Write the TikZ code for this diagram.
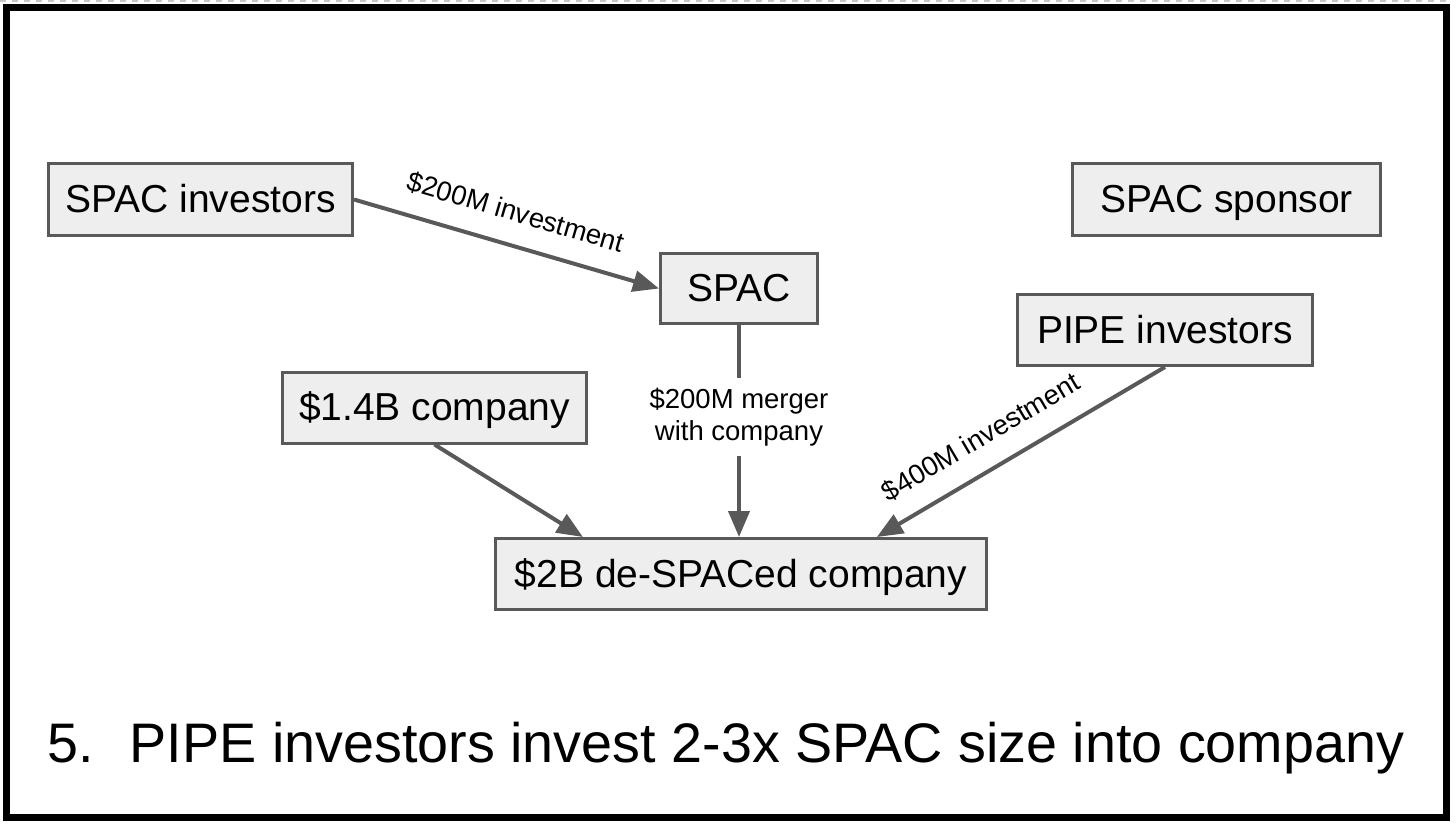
\documentclass[tikz,border=0pt]{standalone}
\usepackage{fontspec}
\setmainfont{Liberation Sans}
\usetikzlibrary{arrows.meta,calc}

\definecolor{boxgray}{HTML}{EEEEEE}
\definecolor{linegray}{HTML}{595959}

\tikzset{
  box/.style={draw=linegray, fill=boxgray, line width=1.5pt, inner sep=0pt,
    text height=14.2pt, text depth=1.2pt, font=\fontsize{19.5}{23}\selectfont},
  flow/.style={draw=linegray, line width=2pt, -{Triangle[length=13pt,width=10.5pt]}},
  tag/.style={font=\fontsize{13.75}{16}\selectfont, sloped, above=10pt, inner sep=0pt},
}

\begin{document}
\begin{tikzpicture}[x=0.5pt,y=-0.5pt]
\useasboundingbox (0,0) rectangle (1456,827);
% Frame
\draw[gray!45, dashed, line width=0.6pt] (0,1) -- (1448,1);
\draw[line width=3.5pt] (6.5,7.5) rectangle (1446.5,817.5);

% Boxes
\node[box, minimum width=152pt, minimum height=36pt] (inv) at (200.5,199.5) {SPAC investors};
\node[box, minimum width=78.5pt, minimum height=35pt] (spac) at (739,288.5) {SPAC};
\node[box, minimum width=154pt, minimum height=36pt] (sponsor) at (1226.5,199.5) {SPAC sponsor};
\node[box, minimum width=147.5pt, minimum height=35.5pt] (pipe) at (1165,330) {PIPE investors};
\node[box, minimum width=152pt, minimum height=35.5pt] (co) at (434.5,407.5) {\$1.4B company};
\node[box, minimum width=245.5pt, minimum height=35.5pt] (deco) at (741,574) {\$2B de-SPACed company};

% Merger label (breaks the line)
\node[font=\fontsize{13.75}{16}\selectfont, align=center, inner sep=0pt, minimum height=45pt] (merge) at (739,417)
  {\$200M merger\\with company};

% Arrows
\draw[flow] (inv.east) -- node[tag, pos=.5] (amtA) {\$200M investment} (spac.west);
\draw[draw=linegray, line width=2pt, shorten >=-3pt] (spac.south) -- (merge.north);
\draw[flow, shorten <=-3pt] (merge.south) -- (merge.south |- deco.north);
\draw[flow] (co.south) -- ($(deco.north west)!.18!(deco.north east)$);
\draw[flow] (pipe.south) -- node[tag, pos=.58] (amtB) {\$400M investment}
  ($(deco.north west)!.775!(deco.north east)$);

% Caption
\node[anchor=base west, inner sep=0pt, font=\fontsize{27.85}{33}\selectfont] (caption) at (47,762)
  {5.\hspace{18pt}PIPE investors invest 2-3x SPAC size into company};
\end{tikzpicture}
\end{document}
